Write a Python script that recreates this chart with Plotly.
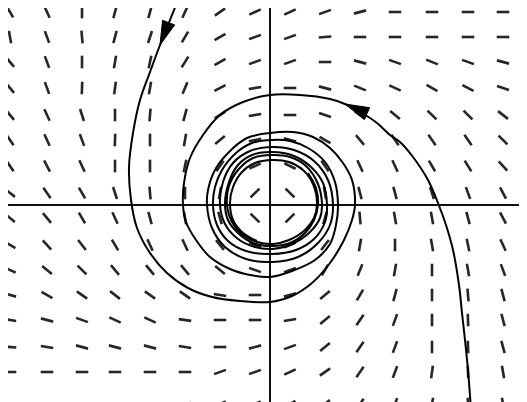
import math
import plotly.graph_objects as go

# ---- direction-field grid (data units: 1 unit = 1 px, origin at the axes crossing)
grid_x = [-260, -223, -188, -155, -120, -85, -50, -15, 20, 55, 90, 125, 162, 198, 233]
grid_y = [193, 168, 143, 117, 90, 65, 39, 12, -13, -40, -65, -90, -115, -142, -167, -199]

# slope angle of each dash in degrees, one row per grid_y
slope_angles = [
    [-60, -65, 90, 75, 75, 65, 35, 25, 25, 20, 15, 0, 0, 0, 0],
    [-80, -70, -85, 75, 72, 60, 30, 20, 20, 5, 0, 0, 0, 0, 0],
    [-50, -70, 90, 80, 78, 58, 30, 20, 20, 0, -15, -20, -22, -20, -15],
    [-50, -70, 88, 82, 80, 68, 28, 10, 0, -15, -22, -25, -30, -28, -18],
    [-50, -65, -72, 90, 85, 75, 32, 10, 0, -18, -35, -40, -45, -45, -38],
    [-55, -65, -70, 88, 90, 80, 40, 12, -15, -30, -50, -55, -55, -55, -45],
    [-55, -62, -65, 90, 90, 78, 55, 25, -26, -55, -65, -65, -60, -58, -48],
    [-38, -55, -60, -72, -85, 90, 80, 45, -45, -80, -75, -75, -72, -70, -62],
    [-40, -50, -60, -65, -75, -80, -74, -45, 45, 74, -85, -80, -80, -75, -62],
    [-30, -48, -52, -60, -65, -65, -51, -22, 23, 52, 80, 90, -80, -78, -65],
    [-25, -40, -45, -50, -50, -50, -40, -20, 20, 60, 68, 80, 90, -80, -70],
    [-15, -30, -35, -38, -35, -35, -10, 0, 15, 40, 60, 75, 90, -85, -75],
    [-10, -15, -20, -25, -25, -8, 0, 0, 10, 40, 55, 70, 90, -88, -75],
    [-5, -10, -15, -15, -15, -10, 0, 15, 20, 40, 55, 70, 90, -88, -75],
    [0, 0, 0, 0, 0, 0, 20, 20, 25, 35, 55, 70, 82, -88, -80],
    [0, 0, 0, 0, 0, 10, 25, 25, 30, 40, 55, 70, 80, -88, -80],
]

# ---- trajectory entering from the top (spirals in towards the limit cycle)
traj_a_x = [-92, -100, -110, -120, -130, -137, -141, -139, -133, -120, -103, -82, -58, -30,
            0, 22, 42, 60, 74, 82, 85, 82, 73, 60, 43, 23, 0, -23, -42, -55, -62, -63,
            -58, -45, -24, 2, 28, 48, 60, 63, 58, 44, 24, 2, -20, -37, -47, -50,
            -45, -32, -15, 2, 22, 40, 50, 52, 48, 36, 20, 2, -17, -32, -41, -43,
            -38, -27, -13, 3, 19, 35, 44, 47, 43, 33, 19, 2, -15, -28, -37, -40,
            -37, -27, -13]
traj_a_y = [205, 185, 160, 133, 105, 72, 38, 5, -23, -48, -68, -83, -92, -96,
            -97, -91, -78, -58, -35, -15, 0, 25, 42, 57, 68, 73, 72, 67, 52, 35, 15, 0,
            -23, -42, -54, -57, -52, -38, -20, 0, 25, 44, 55, 58, 54, 42, 23, 0,
            -19, -34, -42, -44, -39, -27, -13, 0, 21, 39, 48, 50, 47, 35, 19, 0,
            -17, -30, -37, -39, -35, -25, -13, 2, 21, 35, 43, 45, 42, 33, 18, 2,
            -15, -28, -36]

# ---- trajectory entering from the bottom right
traj_b_x = [201, 198, 195, 192, 189, 183, 176, 168, 158, 143, 130, 120, 107, 92, 75, 60, 30,
            0, -27, -50, -67, -80, -86, -87, -84, -74, -60, -40, -20, 0, 22, 45, 60, 66,
            68, 65, 55, 38, 20, 2, -18, -34, -48, -55, -57, -53, -42, -24, 2, 26, 44, 55,
            57, 53, 41, 24, 2, -18, -32, -41, -45, -42, -32, -17, 2, 20, 35, 44, 48, 46, 38]
traj_b_y = [-205, -165, -135, -108, -80, -45, -20, 2, 25, 48, 63, 70, 82, 92, 101, 106, 110,
            110, 103, 90, 70, 47, 22, 0, -17, -35, -52, -64, -70, -72, -66, -55, -39, -20,
            0, 23, 43, 57, 64, 65, 62, 52, 35, 18, 0, -20, -36, -46, -49, -45, -34, -17,
            0, 22, 38, 49, 53, 50, 40, 23, 2, -15, -28, -38, -41, -38, -28, -15, 0, 17, 32]

# index of the trajectory point where each arrowhead's tip sits
arrow_a_index = 2
arrow_b_index = 14

X_RANGE = [-262, 257]
Y_RANGE = [-197, 197]
HALF_DASH = 6.3

fig = go.Figure()

# direction field dashes
dx_list, dy_list = [], []
for yv, row in zip(grid_y, slope_angles):
    for xv, ang in zip(grid_x, row):
        r = math.radians(ang)
        ox, oy = HALF_DASH * math.cos(r), HALF_DASH * math.sin(r)
        dx_list += [xv - ox, xv + ox, None]
        dy_list += [yv - oy, yv + oy, None]
fig.add_trace(go.Scatter(x=dx_list, y=dy_list, mode="lines",
                         line=dict(color="#262626", width=2.6),
                         hoverinfo="skip", showlegend=False))

# trajectories
for tx, ty in [(traj_a_x, traj_a_y), (traj_b_x, traj_b_y)]:
    fig.add_trace(go.Scatter(x=tx, y=ty, mode="lines",
                             line=dict(color="black", width=2, shape="spline", smoothing=1.0),
                             hoverinfo="skip", showlegend=False))


def arrowhead(tx, ty, i, length=24, width=13):
    vx, vy = tx[i + 1] - tx[i - 1], ty[i + 1] - ty[i - 1]
    n = math.hypot(vx, vy)
    vx, vy = vx / n, vy / n
    bx, by = tx[i] - length * vx, ty[i] - length * vy
    px, py = -vy * width / 2, vx * width / 2
    return ([tx[i], bx + px, bx - px, tx[i]], [ty[i], by + py, by - py, ty[i]])


for tx, ty, idx in [(traj_a_x, traj_a_y, arrow_a_index), (traj_b_x, traj_b_y, arrow_b_index)]:
    ax, ay = arrowhead(tx, ty, idx)
    fig.add_trace(go.Scatter(x=ax, y=ay, mode="lines", fill="toself",
                             fillcolor="black", line=dict(color="black", width=1),
                             hoverinfo="skip", showlegend=False))

axis_common = dict(showgrid=False, showticklabels=False, ticks="", showline=False,
                   zeroline=True, zerolinecolor="#111111", zerolinewidth=2,
                   fixedrange=True)
# the page body adds an 8 px offset, so the figure itself covers the plot area only
fig.update_layout(
    width=519, height=394,
    margin=dict(l=0, r=0, t=0, b=0),
    paper_bgcolor="white", plot_bgcolor="white",
    xaxis=dict(range=X_RANGE, **axis_common),
    yaxis=dict(range=Y_RANGE, **axis_common),
    showlegend=False,
)

fig.write_html("out.html")
